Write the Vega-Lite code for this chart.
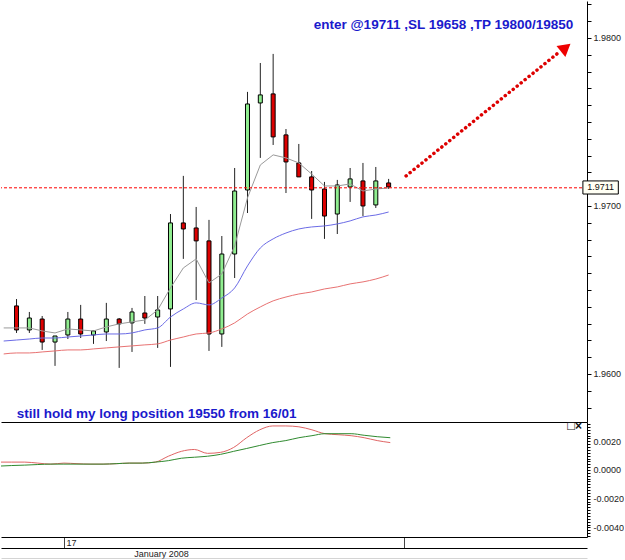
{
 "$schema": "https://vega.github.io/schema/vega-lite/v6.json",
 "padding": 0,
 "background": "white",
 "spacing": 0,
 "bounds": "flush",
 "config": {
  "view": {"stroke": null},
  "axis": {"grid": false, "labelFont": "Liberation Sans", "titleFont": "Liberation Sans", "labelFontSize": 9, "labelColor": "#222", "domainColor": "#000", "tickColor": "#000", "labelOverlap": false}
 },
 "datasets": {
  "candles": [
   {"i":1,"o":1.96405,"h":1.96446,"l":1.96244,"c":1.96262},
   {"i":2,"o":1.96262,"h":1.96369,"l":1.96244,"c":1.96333},
   {"i":3,"o":1.96327,"h":1.96345,"l":1.96143,"c":1.96190},
   {"i":4,"o":1.96190,"h":1.96226,"l":1.96048,"c":1.96226},
   {"i":5,"o":1.96232,"h":1.96369,"l":1.96208,"c":1.96327},
   {"i":6,"o":1.96327,"h":1.96411,"l":1.96214,"c":1.96238},
   {"i":7,"o":1.96232,"h":1.96256,"l":1.96179,"c":1.96256},
   {"i":8,"o":1.96250,"h":1.96423,"l":1.96196,"c":1.96327},
   {"i":9,"o":1.96327,"h":1.96333,"l":1.96036,"c":1.96298},
   {"i":10,"o":1.96304,"h":1.96393,"l":1.96131,"c":1.96369},
   {"i":11,"o":1.96363,"h":1.96464,"l":1.96298,"c":1.96333},
   {"i":12,"o":1.96339,"h":1.96464,"l":1.96155,"c":1.96381},
   {"i":13,"o":1.96387,"h":1.96952,"l":1.96042,"c":1.96899},
   {"i":14,"o":1.96899,"h":1.97179,"l":1.96685,"c":1.96863},
   {"i":15,"o":1.96869,"h":1.96994,"l":1.96440,"c":1.96792},
   {"i":16,"o":1.96792,"h":1.96917,"l":1.96137,"c":1.96238},
   {"i":17,"o":1.96238,"h":1.96821,"l":1.96161,"c":1.96714},
   {"i":18,"o":1.96714,"h":1.97226,"l":1.96571,"c":1.97089},
   {"i":19,"o":1.97095,"h":1.97679,"l":1.96958,"c":1.97607},
   {"i":20,"o":1.97613,"h":1.97851,"l":1.97286,"c":1.97661},
   {"i":21,"o":1.97667,"h":1.97905,"l":1.97363,"c":1.97411},
   {"i":22,"o":1.97423,"h":1.97458,"l":1.97077,"c":1.97262},
   {"i":23,"o":1.97256,"h":1.97369,"l":1.97173,"c":1.97173},
   {"i":24,"o":1.97173,"h":1.97208,"l":1.96923,"c":1.97095},
   {"i":25,"o":1.97101,"h":1.97143,"l":1.96804,"c":1.96940},
   {"i":26,"o":1.96952,"h":1.97155,"l":1.96833,"c":1.97125},
   {"i":27,"o":1.97113,"h":1.97226,"l":1.97024,"c":1.97161},
   {"i":28,"o":1.97149,"h":1.97256,"l":1.96940,"c":1.97000},
   {"i":29,"o":1.97006,"h":1.97232,"l":1.96988,"c":1.97149},
   {"i":30,"o":1.97137,"h":1.97161,"l":1.97101,"c":1.97113}
  ],
  "ind": [
   {"i":0,"g":1.96274,"b":1.96196,"r":1.96119,"m1":0.00055,"m2":0.00027},
   {"i":1,"g":1.96274,"b":1.96202,"r":1.96125,"m1":0.00055,"m2":0.00031},
   {"i":2,"g":1.96274,"b":1.96208,"r":1.96125,"m1":0.00055,"m2":0.00034},
   {"i":3,"g":1.96256,"b":1.96214,"r":1.96131,"m1":0.00048,"m2":0.00038},
   {"i":4,"g":1.96244,"b":1.96214,"r":1.96137,"m1":0.00041,"m2":0.00041},
   {"i":5,"g":1.96268,"b":1.96220,"r":1.96143,"m1":0.00048,"m2":0.00041},
   {"i":6,"g":1.96262,"b":1.96226,"r":1.96143,"m1":0.00044,"m2":0.00041},
   {"i":7,"g":1.96256,"b":1.96232,"r":1.96149,"m1":0.00041,"m2":0.00041},
   {"i":8,"g":1.96280,"b":1.96238,"r":1.96155,"m1":0.00041,"m2":0.00041},
   {"i":9,"g":1.96298,"b":1.96238,"r":1.96161,"m1":0.00044,"m2":0.00044},
   {"i":10,"g":1.96310,"b":1.96244,"r":1.96167,"m1":0.00048,"m2":0.00048},
   {"i":11,"g":1.96321,"b":1.96262,"r":1.96173,"m1":0.00048,"m2":0.00048},
   {"i":12,"g":1.96381,"b":1.96274,"r":1.96179,"m1":0.00055,"m2":0.00055},
   {"i":13,"g":1.96512,"b":1.96339,"r":1.96202,"m1":0.00096,"m2":0.00065},
   {"i":14,"g":1.96631,"b":1.96387,"r":1.96220,"m1":0.00130,"m2":0.00082},
   {"i":15,"g":1.96685,"b":1.96423,"r":1.96238,"m1":0.00143,"m2":0.00089},
   {"i":16,"g":1.96542,"b":1.96411,"r":1.96244,"m1":0.00116,"m2":0.00096},
   {"i":17,"g":1.96595,"b":1.96452,"r":1.96268,"m1":0.00123,"m2":0.00109},
   {"i":18,"g":1.96762,"b":1.96512,"r":1.96304,"m1":0.00157,"m2":0.00130},
   {"i":19,"g":1.97048,"b":1.96643,"r":1.96357,"m1":0.00225,"m2":0.00150},
   {"i":20,"g":1.97244,"b":1.96750,"r":1.96399,"m1":0.00280,"m2":0.00171},
   {"i":21,"g":1.97304,"b":1.96804,"r":1.96435,"m1":0.00307,"m2":0.00191},
   {"i":22,"g":1.97286,"b":1.96839,"r":1.96458,"m1":0.00307,"m2":0.00205},
   {"i":23,"g":1.97256,"b":1.96863,"r":1.96476,"m1":0.00301,"m2":0.00225},
   {"i":24,"g":1.97190,"b":1.96875,"r":1.96488,"m1":0.00280,"m2":0.00239},
   {"i":25,"g":1.97119,"b":1.96881,"r":1.96506,"m1":0.00253,"m2":0.00253},
   {"i":26,"g":1.97119,"b":1.96893,"r":1.96518,"m1":0.00246,"m2":0.00253},
   {"i":27,"g":1.97131,"b":1.96911,"r":1.96536,"m1":0.00239,"m2":0.00253},
   {"i":28,"g":1.97089,"b":1.96935,"r":1.96548,"m1":0.00225,"m2":0.00242},
   {"i":29,"g":1.97101,"b":1.96946,"r":1.96565,"m1":0.00205,"m2":0.00232},
   {"i":30,"g":1.97107,"b":1.96964,"r":1.96589,"m1":0.00191,"m2":0.00225}
  ]
 },
 "vconcat": [
  {
   "width": 586,
   "height": 421,
   "layer": [
    {
     "data": {"name": "candles"},
     "mark": {"type": "rule", "color": "#222", "strokeWidth": 1},
     "encoding": {
      "x": {"field": "i", "type": "quantitative", "title": null,
            "scale": {"domain": [0.18, 45.07], "nice": false, "zero": false},
            "axis": {"orient": "bottom", "ticks": false, "labels": false, "domainColor": "#000", "title": null}},
      "y": {"field": "l", "type": "quantitative", "title": null,
            "scale": {"domain": [1.95714, 1.9822], "nice": false, "zero": false},
            "axis": {"orient": "right", "title": null, "tickSize": 4, "labelPadding": 2, "labelOverlap": false, "labelBound": false, "tickCount": 200,
                     "values": [1.958,1.959,1.960,1.961,1.962,1.963,1.964,1.965,1.966,1.967,1.968,1.969,1.970,1.971,1.972,1.973,1.974,1.975,1.976,1.977,1.978,1.979,1.980,1.981,1.982],
                     "labelExpr": "abs(datum.value*100 - round(datum.value*100)) < 0.01 ? format(datum.value, '.4f') : ''"}},
      "y2": {"field": "h"}
     }
    },
    {
     "data": {"name": "candles"},
     "mark": {"type": "bar", "width": 4, "stroke": "#000", "strokeWidth": 1},
     "encoding": {
      "x": {"field": "i", "type": "quantitative", "title": null},
      "y": {"field": "o", "type": "quantitative", "title": null},
      "y2": {"field": "c"},
      "color": {"condition": {"test": "datum.c >= datum.o", "value": "#90ee90"}, "value": "#dd0000"}
     }
    },
    {
     "data": {"name": "ind"},
     "mark": {"type": "line", "color": "#9a9a9a", "strokeWidth": 1, "clip": true},
     "encoding": {
      "x": {"field": "i", "type": "quantitative", "title": null},
      "y": {"field": "g", "type": "quantitative", "title": null}
     }
    },
    {
     "data": {"name": "ind"},
     "mark": {"type": "line", "color": "#6b6be6", "strokeWidth": 1, "interpolate": "monotone", "clip": true},
     "encoding": {
      "x": {"field": "i", "type": "quantitative", "title": null},
      "y": {"field": "b", "type": "quantitative", "title": null}
     }
    },
    {
     "data": {"name": "ind"},
     "mark": {"type": "line", "color": "#e87272", "strokeWidth": 1, "interpolate": "monotone", "clip": true},
     "encoding": {
      "x": {"field": "i", "type": "quantitative", "title": null},
      "y": {"field": "r", "type": "quantitative", "title": null}
     }
    },
    {
     "data": {"values": [{}]},
     "mark": {"type": "rule", "stroke": "#ff0000", "strokeWidth": 1, "strokeDash": [3, 2], "opacity": 1},
     "encoding": {"y": {"datum": 1.97108}}
    },
    {
     "data": {"values": [{}]},
     "mark": {"type": "rule", "color": "#dd0000", "strokeWidth": 3.5, "strokeDash": [0.1, 5], "strokeCap": "round"},
     "encoding": {"x": {"datum": 31.36}, "x2": {"datum": 43.31}, "y": {"datum": 1.97179}, "y2": {"datum": 1.97917}}
    },
    {
     "data": {"values": [{}]},
     "mark": {"type": "point", "shape": "triangle-up", "filled": true, "color": "#ee0000", "opacity": 1, "size": 200, "angle": 51},
     "encoding": {"x": {"datum": 43.8}, "y": {"datum": 1.97943}}
    },
    {
     "data": {"values": [{}]},
     "mark": {"type": "text", "text": "enter @19711 ,SL 19658 ,TP 19800/19850", "font": "Liberation Sans", "fontWeight": "bold", "fontSize": 13.5, "align": "left", "baseline": "alphabetic", "color": "#1a1acc"},
     "encoding": {"x": {"datum": 24.16}, "y": {"datum": 1.98054}}
    },
    {
     "data": {"values": [{}]},
     "mark": {"type": "text", "text": "still hold my long position 19550 from 16/01", "font": "Liberation Sans", "fontWeight": "bold", "fontSize": 13.5, "align": "left", "baseline": "alphabetic", "color": "#1a1acc"},
     "encoding": {"x": {"datum": 1.02}, "y": {"datum": 1.95738}}
    },
    {
     "data": {"values": [{}]},
     "mark": {"type": "rect", "fill": "#fffff4", "stroke": "#000", "strokeWidth": 1},
     "encoding": {"x": {"datum": 45.14}, "x2": {"datum": 47.9}, "y": {"datum": 1.97149}, "y2": {"datum": 1.97071}}
    },
    {
     "data": {"values": [{}]},
     "mark": {"type": "text", "text": "1.9711", "font": "Liberation Sans", "fontSize": 9, "align": "center", "baseline": "middle", "color": "#111"},
     "encoding": {"x": {"datum": 46.52}, "y": {"datum": 1.9711}}
    }
   ]
  },
  {
   "width": 586,
   "height": 115,
   "data": {"name": "ind"},
   "resolve": {"axis": {"x": "independent"}},
   "layer": [
    {
     "mark": {"type": "line", "color": "#e06464", "strokeWidth": 1, "interpolate": "monotone", "clip": true},
     "encoding": {
      "x": {"field": "i", "type": "quantitative", "title": null,
            "scale": {"domain": [0.18, 45.07], "nice": false, "zero": false},
            "axis": {"orient": "bottom", "title": null, "values": [5.006, 31.05], "labelExpr": "datum.value < 10 ? '17' : ''",
                     "tickSize": 11, "tickColor": "#444", "labelPadding": -10, "labelAlign": "left", "labelBaseline": "top",
                     "labelOffset": 2, "labelFontSize": 9, "labelFlush": false, "labelOverlap": false, "domainColor": "#000"}},
      "y": {"field": "m1", "type": "quantitative", "title": null,
            "scale": {"domain": [-0.00467, 0.003345], "nice": false, "zero": false},
            "axis": {"orient": "right", "title": null, "tickSize": 3, "labelPadding": 3, "labelOverlap": false, "labelBound": false, "tickCount": 200,
                     "values": [-0.0046,-0.0044,-0.0042,-0.004,-0.0038,-0.0036,-0.0034,-0.0032,-0.003,-0.0028,-0.0026,-0.0024,-0.0022,-0.002,-0.0018,-0.0016,-0.0014,-0.0012,-0.001,-0.0008,-0.0006,-0.0004,-0.0002,0,0.0002,0.0004,0.0006,0.0008,0.001,0.0012,0.0014,0.0016,0.0018,0.002,0.0022,0.0024,0.0026,0.0028,0.003,0.0032],
                     "labelExpr": "abs(datum.value*500 - round(datum.value*500)) < 0.01 ? replace(format(datum.value, '.4f'), '\u2212', '-') : ''"}}
     }
    },
    {
     "mark": {"type": "line", "color": "#2f8a2f", "strokeWidth": 1, "interpolate": "monotone", "clip": true},
     "encoding": {
      "x": {"field": "i", "type": "quantitative",
            "axis": {"orient": "bottom", "offset": 11, "ticks": false, "labels": false, "title": "January 2008",
                     "titleFontSize": 9, "titleFontWeight": "normal", "titleColor": "#222", "titleX": 160, "titleY": 1,
                     "titleBaseline": "top", "titleAlign": "center", "domainColor": "#000"}},
      "y": {"field": "m2", "type": "quantitative", "title": null}
     }
    },
    {
     "data": {"values": [{}]},
     "mark": {"type": "text", "text": "□", "font": "DejaVu Sans", "fontSize": 10, "align": "center", "baseline": "middle", "color": "#222"},
     "encoding": {
      "x": {"datum": 43.84, "axis": {"orient": "bottom", "offset": 22, "ticks": false, "labels": false, "title": null, "domainColor": "#aaaaaa", "domainWidth": 2}},
      "y": {"datum": 0.00305}
     }
    },
    {
     "data": {"values": [{}]},
     "mark": {"type": "text", "text": "×", "font": "Liberation Sans", "fontWeight": "bold", "fontSize": 12, "align": "center", "baseline": "middle", "color": "#111"},
     "encoding": {
      "x": {"datum": 44.42, "axis": null},
      "y": {"datum": 0.00305}
     }
    }
   ]
  }
 ]
}
